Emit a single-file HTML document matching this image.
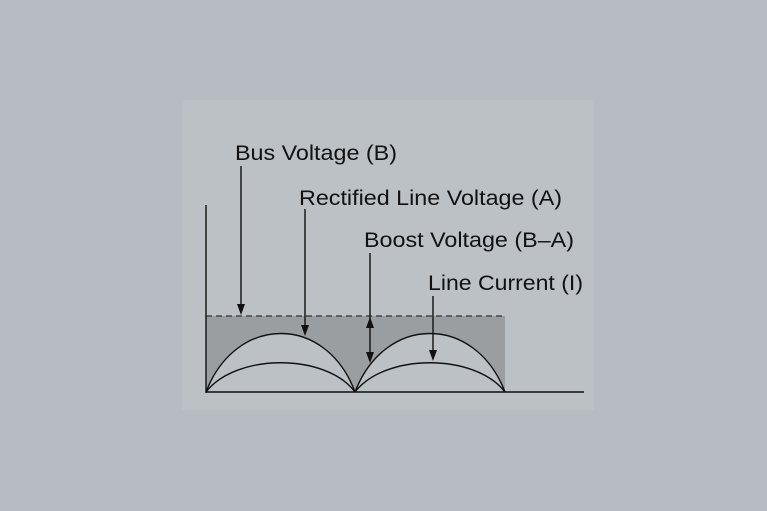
<!DOCTYPE html>
<html><head><style>
html,body{margin:0;padding:0;background:#b6bcc2;}
svg{display:block;}
text{font-family:"Liberation Sans",Arial,sans-serif;font-size:21px;fill:#111;}
</style></head><body>
<svg width="767" height="511" viewBox="0 0 767 511" xmlns="http://www.w3.org/2000/svg">
<rect x="0" y="0" width="767" height="511" fill="#b6bcc2"/>
<rect x="182" y="100" width="412" height="310" fill="#bbc1c5"/>
<!-- shaded boost region -->
<rect x="206" y="316" width="299" height="76" fill="#9a9ea0"/>
<path d="M206,392 C236,314 326,314 355,392 Z" fill="#bbc1c5"/>
<path d="M355,392 C385,314 475,314 505,392 Z" fill="#bbc1c5"/>
<!-- dashed bus line -->
<line x1="206" y1="316" x2="505" y2="316" stroke="#333" stroke-width="1.3" stroke-dasharray="6,4"/>
<!-- outer arcs -->
<path d="M206,392 C236,314 326,314 355,392" fill="none" stroke="#111" stroke-width="1.4"/>
<path d="M355,392 C385,314 475,314 505,392" fill="none" stroke="#111" stroke-width="1.4"/>
<!-- inner arcs -->
<path d="M206,392 C236,353 326,353 355,392" fill="none" stroke="#111" stroke-width="1.4"/>
<path d="M355,392 C385,353 475,353 505,392" fill="none" stroke="#111" stroke-width="1.4"/>
<!-- axes -->
<line x1="206" y1="205" x2="206" y2="393" stroke="#111" stroke-width="1.4"/>
<line x1="206" y1="392" x2="584" y2="392" stroke="#111" stroke-width="1.4"/>
<!-- arrows -->
<line x1="241" y1="166" x2="241" y2="305" stroke="#111" stroke-width="1.4"/>
<path d="M237,304 L245,304 L241,315 Z" fill="#111"/>
<line x1="305" y1="209" x2="305" y2="326" stroke="#111" stroke-width="1.4"/>
<path d="M301,325 L309,325 L305,336 Z" fill="#111"/>
<line x1="370" y1="253" x2="370" y2="353" stroke="#111" stroke-width="1.4"/>
<path d="M366,352 L374,352 L370,363 Z" fill="#111"/>
<path d="M366,328 L374,328 L370,317 Z" fill="#111"/>
<line x1="433" y1="296" x2="433" y2="351" stroke="#111" stroke-width="1.4"/>
<path d="M429,350 L437,350 L433,361 Z" fill="#111"/>
<!-- labels -->
<text x="235" y="160" textLength="162" lengthAdjust="spacingAndGlyphs">Bus Voltage (B)</text>
<text x="299" y="205" textLength="263" lengthAdjust="spacingAndGlyphs">Rectified Line Voltage (A)</text>
<text x="364" y="247" textLength="210" lengthAdjust="spacingAndGlyphs">Boost Voltage (B–A)</text>
<text x="428" y="290" textLength="155" lengthAdjust="spacingAndGlyphs">Line Current (I)</text>
</svg>
</body></html>
